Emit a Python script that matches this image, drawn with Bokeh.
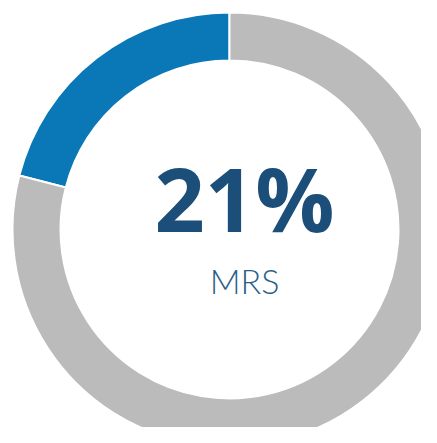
import math
from bokeh.plotting import figure
from bokeh.models import Range1d
from bokeh.core.properties import value
from bokeh.embed import file_html
from bokeh.resources import INLINE

labels = ["MRS", "Other"]
values = [21, 79]
colors = ["#0A77B6", "#BBBBBB"]
headline = "21%"
caption = "MRS"

W, H = 421, 427
p = figure(width=W, height=H, output_backend="svg", toolbar_location=None,
           x_range=Range1d(0, W), y_range=Range1d(0, H), min_border=0)
p.axis.visible = False
p.grid.visible = False
p.outline_line_color = None
p.background_fill_color = "white"
p.border_fill_color = "white"

cx, cy = 229, H - 229
total = sum(values)
start = math.pi / 2
starts, ends = [], []
for v in values:
    a = 2 * math.pi * v / total
    starts.append(start)
    ends.append(start + a)
    start += a

p.annular_wedge(x=[cx] * len(values), y=[cy] * len(values), inner_radius=169, outer_radius=217,
                start_angle=starts, end_angle=ends, fill_color=colors,
                line_color="white", line_width=2)

p.text(x=[244], y=[H - 197], text=[headline], text_font=value("Open Sans"),
       text_font_style="bold", text_font_size="88px", text_color="#1B4F7A",
       text_align="center", text_baseline="alphabetic")
p.text(x=[244], y=[H - 280], text=[caption], text_font=value("Lato Light"),
       text_font_size="34px", text_color="#2B5F8A",
       text_align="center", text_baseline="alphabetic")

open("out.html", "w").write(file_html(p, INLINE))
